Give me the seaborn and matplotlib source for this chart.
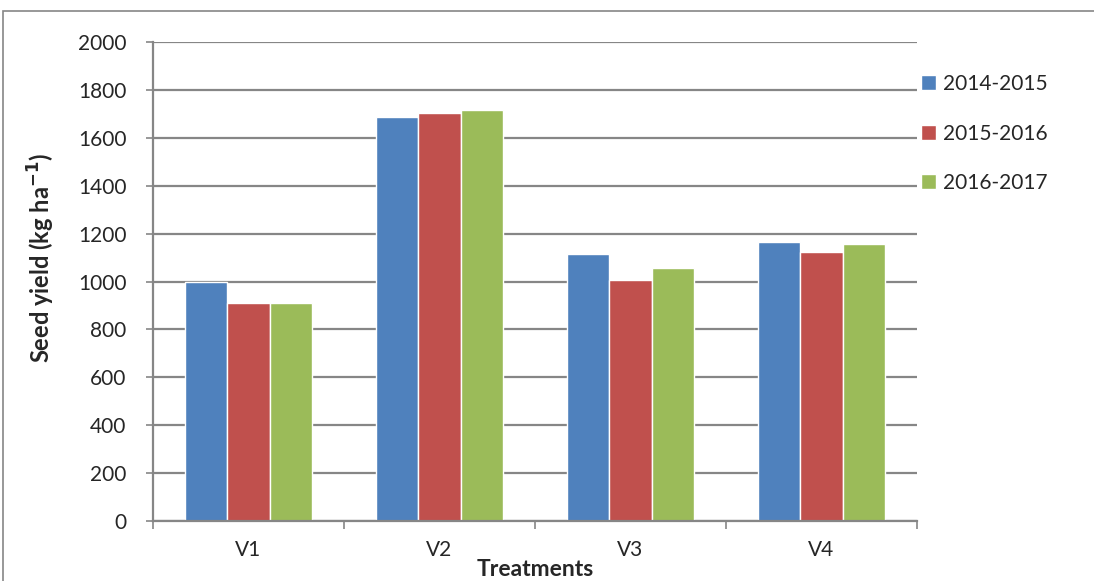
import pandas as pd
import seaborn as sns
import matplotlib.pyplot as plt
from matplotlib.patches import Rectangle

# valores
tratamentos = ['V1', 'V2', 'V3', 'V4']
safras = ['2014-2015', '2015-2016', '2016-2017']
y_2014 = [998, 1685, 1115, 1165]
y_2015 = [912, 1703, 1008, 1125]
y_2016 = [912, 1718, 1056, 1156]
cores = ['#4F81BD', '#C0504D', '#9BBB59']
yticks = [0, 200, 400, 600, 800, 1000, 1200, 1400, 1600, 1800, 2000]

df = pd.DataFrame({
    'Tratamento': tratamentos * 3,
    'Safra': [safras[0]] * 4 + [safras[1]] * 4 + [safras[2]] * 4,
    'Produtividade': y_2014 + y_2015 + y_2016,
})

sns.set_style('white')
plt.rcParams['font.family'] = ['Lato', 'DejaVu Sans']

fig = plt.figure(figsize=(10.94, 5.81), dpi=100)
ax = fig.add_axes([153 / 1094, 60 / 581, 764 / 1094, 479 / 581])

sns.barplot(data=df, x='Tratamento', y='Produtividade', hue='Safra',
            palette=cores, width=0.66, saturation=1, ax=ax, legend=True)

ax.set_ylim(0, 2000)
ax.set_xlim(-0.5, 3.5)
ax.set_yticks(yticks)
ax.yaxis.grid(True, color='#868686', linewidth=1.6)
ax.set_axisbelow(True)
for s in ['top', 'right']:
    ax.spines[s].set_visible(False)
for s in ['left', 'bottom']:
    ax.spines[s].set_color('#868686')
    ax.spines[s].set_linewidth(1.6)

ax.tick_params(axis='y', length=5, width=1.2, color='#868686', pad=14,
               labelsize=15, direction='out', left=True)
ax.tick_params(axis='x', which='major', length=0, pad=14, labelsize=15)
ax.set_xticks([-0.5, 0.5, 1.5, 2.5, 3.5], minor=True)
ax.tick_params(axis='x', which='minor', length=6, width=1.2,
               color='#868686', direction='out', bottom=True)

ax.set_xlabel('')
ax.set_ylabel('Seed yield (kg ha$^{\\mathbf{-1}}$)', fontsize=17,
              fontweight='bold')
ax.yaxis.set_label_coords(-0.125, 0.549)
fig.text(535 / 1094, 1 - 570 / 581, 'Treatments', fontsize=16.5,
         fontweight='bold', ha='center', va='center')

handles, labels = ax.get_legend_handles_labels()
ax.get_legend().remove()
fig.legend(handles, labels, loc='upper left',
           bbox_to_anchor=(921 / 1094, 1 - 74 / 581), frameon=False,
           fontsize=15, handlelength=0.72, handleheight=0.72,
           handletextpad=0.35, labelspacing=1.42, borderpad=0,
           borderaxespad=0)

# moldura externa do gráfico
fig.patches.append(Rectangle((3 / 1094, -0.1), 1.2, 1 - 11 / 581 + 0.1,
                             transform=fig.transFigure, fill=False,
                             edgecolor='#868686', linewidth=1.2))

plt.savefig('out.png', dpi=100)
plt.close()
